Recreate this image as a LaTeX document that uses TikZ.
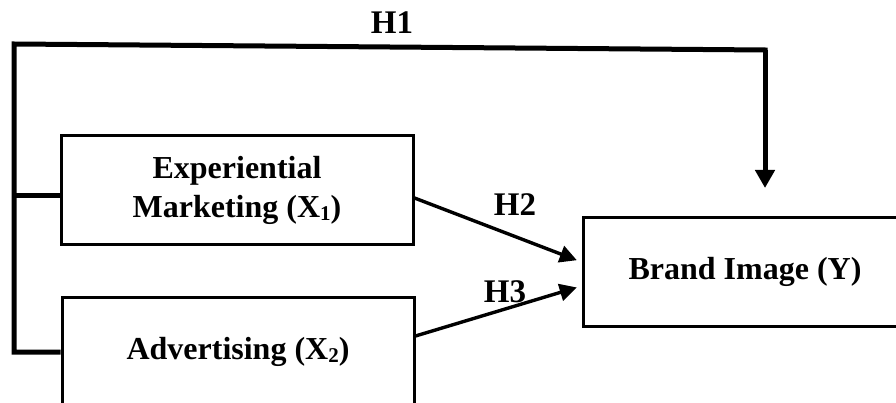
\documentclass[tikz,border=0pt]{standalone}
\usepackage{fontspec}
\setmainfont{Liberation Serif}
\usetikzlibrary{arrows.meta}
\tikzset{
  boxnode/.style={draw=black, line width=3pt, rectangle, align=center, inner sep=0pt,
    font=\fontsize{32}{39}\selectfont\bfseries, minimum height=109pt},
  lbl/.style={font=\fontsize{33}{36}\selectfont\bfseries, inner sep=0pt},
  thickline/.style={line width=5pt},
  arr/.style={line width=3.4pt, -{Triangle[width=17pt,length=17pt]}, shorten >=5pt},
  bigarr/.style={line width=5pt, -{Triangle[width=19pt,length=18pt]}}
}
\newcommand{\subx}[1]{\raisebox{-0.1em}{\fontsize{21}{21}\selectfont #1}}
\begin{document}
\begin{tikzpicture}[x=1pt,y=-1pt]
\clip (0,0) rectangle (896,403);
\fill[white] (0,0) rectangle (896,403);
\node[boxnode, minimum width=352pt] (x1) at (237,190) {Experiential\\Marketing (X\subx{1})};
\node[boxnode, minimum width=352pt] (x2) at (238,352) {Advertising (X\subx{2})};
\node[boxnode, minimum width=324pt] (y) at (745,272) {Brand Image (Y)};
\coordinate (L) at (14,44);
\coordinate (T) at (765,50);
\coordinate (Tend) at (765,188);
\draw[thickline, line join=miter] (x2.west) -| (L) -- (T) -- ++(0,2);
\draw[bigarr] (T) -- (Tend);
\draw[thickline] ([yshift=-6pt]x1.west) -- ([yshift=-6pt]x1.west -| L);
\draw[arr] ([yshift=-8pt]x1.east) -- ([yshift=10pt]y.west);
\draw[arr] ([yshift=16pt]x2.east) -- ([yshift=-14pt]y.west);
\node[lbl] (h1) at (392,23) {H1};
\node[lbl] (h2) at (515,205) {H2};
\node[lbl] (h3) at (505,292) {H3};
\end{tikzpicture}
\end{document}
